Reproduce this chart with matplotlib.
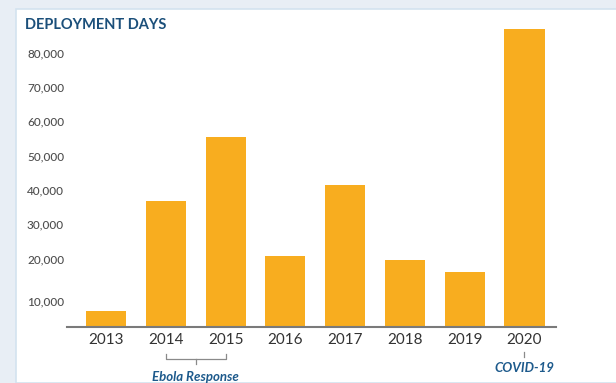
import numpy as np
import matplotlib
matplotlib.use("Agg")
import matplotlib.pyplot as plt
from matplotlib.patches import Rectangle
from matplotlib.transforms import ScaledTranslation

# Data
years = ["2013", "2014", "2015", "2016", "2017", "2018", "2019", "2020"]
deployment_days = [4700, 36800, 55400, 20800, 41500, 19600, 16100, 86800]
ytick_values = [10000, 20000, 30000, 40000, 50000, 60000, 70000, 80000]
ytick_labels = ["10,000", "20,000", "30,000", "40,000", "50,000", "60,000", "70,000", "80,000"]

BAR_COLOR = "#F8AD1F"
TITLE_COLOR = "#1B4F7A"
NOTE_COLOR = "#1D5A8C"

plt.rcParams["font.family"] = ["Lato", "DejaVu Sans"]

W, H = 616, 383
fig = plt.figure(figsize=(W / 100, H / 100), dpi=100)
fig.patch.set_facecolor("#E8EEF5")

# white panel behind the chart
panel = Rectangle((16 / W, 0), 1.0, 1 - 9 / H, transform=fig.transFigure,
                  facecolor="white", edgecolor="#D3E3EF", linewidth=1.2, zorder=-10)
fig.patches.append(panel)

ax = fig.add_axes([67 / W, (H - 327.3) / H, (556 - 67) / W, (327.3 - 20) / H])
ax.set_facecolor("none")
ax.set_zorder(1)

x = np.arange(len(years))
ax.bar(x, deployment_days, width=0.67, color=BAR_COLOR, zorder=2)

ax.set_xlim(-0.652, 7.527)
ax.set_ylim(0, 89460)

for side in ["top", "right", "left"]:
    ax.spines[side].set_visible(False)
ax.spines["bottom"].set_color("#7A7A7A")
ax.spines["bottom"].set_linewidth(1.5)

ax.set_xticks(x)
ax.set_xticklabels(years, fontsize=11, color="#333333")
ax.tick_params(axis="x", length=0, pad=4)

ax.set_yticks(ytick_values)
ax.set_yticklabels(ytick_labels, fontsize=8.5, color="#4F4F4F", fontweight="medium", ha="left")
ax.tick_params(axis="y", length=0, pad=28.8)
# the 10,000 label sits a little lower in the original
lbl = ax.get_yticklabels()[0]
lbl.set_transform(lbl.get_transform() + ScaledTranslation(0, -6 / 72, fig.dpi_scale_trans))

# title
fig.text(25 / W, 1 - 25 / H, "DEPLOYMENT DAYS", fontsize=10.5, fontweight="bold",
         color=TITLE_COLOR, va="center", ha="left")

# Ebola bracket under 2014-2015
tr = ax.get_xaxis_transform()
ax.plot([1, 1, 2, 2], [-0.087, -0.103, -0.103, -0.087], color="#8A8A8A", lw=0.9,
        transform=tr, clip_on=False)
ax.plot([1.5, 1.5], [-0.103, -0.119], color="#8A8A8A", lw=0.9, transform=tr, clip_on=False)
ax.text(1.5, -0.162, "Ebola Response", transform=tr, ha="center", va="center",
        fontsize=9.5, fontweight="bold", fontstyle="italic", color=NOTE_COLOR)

# COVID-19 note
ax.plot([7, 7], [-0.081, -0.097], color="#8A8A8A", lw=0.9, transform=tr, clip_on=False)
ax.text(7, -0.132, "COVID-19", transform=tr, ha="center", va="center",
        fontsize=9.5, fontweight="bold", fontstyle="italic", color=NOTE_COLOR)

fig.savefig("out.png", dpi=100, facecolor=fig.get_facecolor())
